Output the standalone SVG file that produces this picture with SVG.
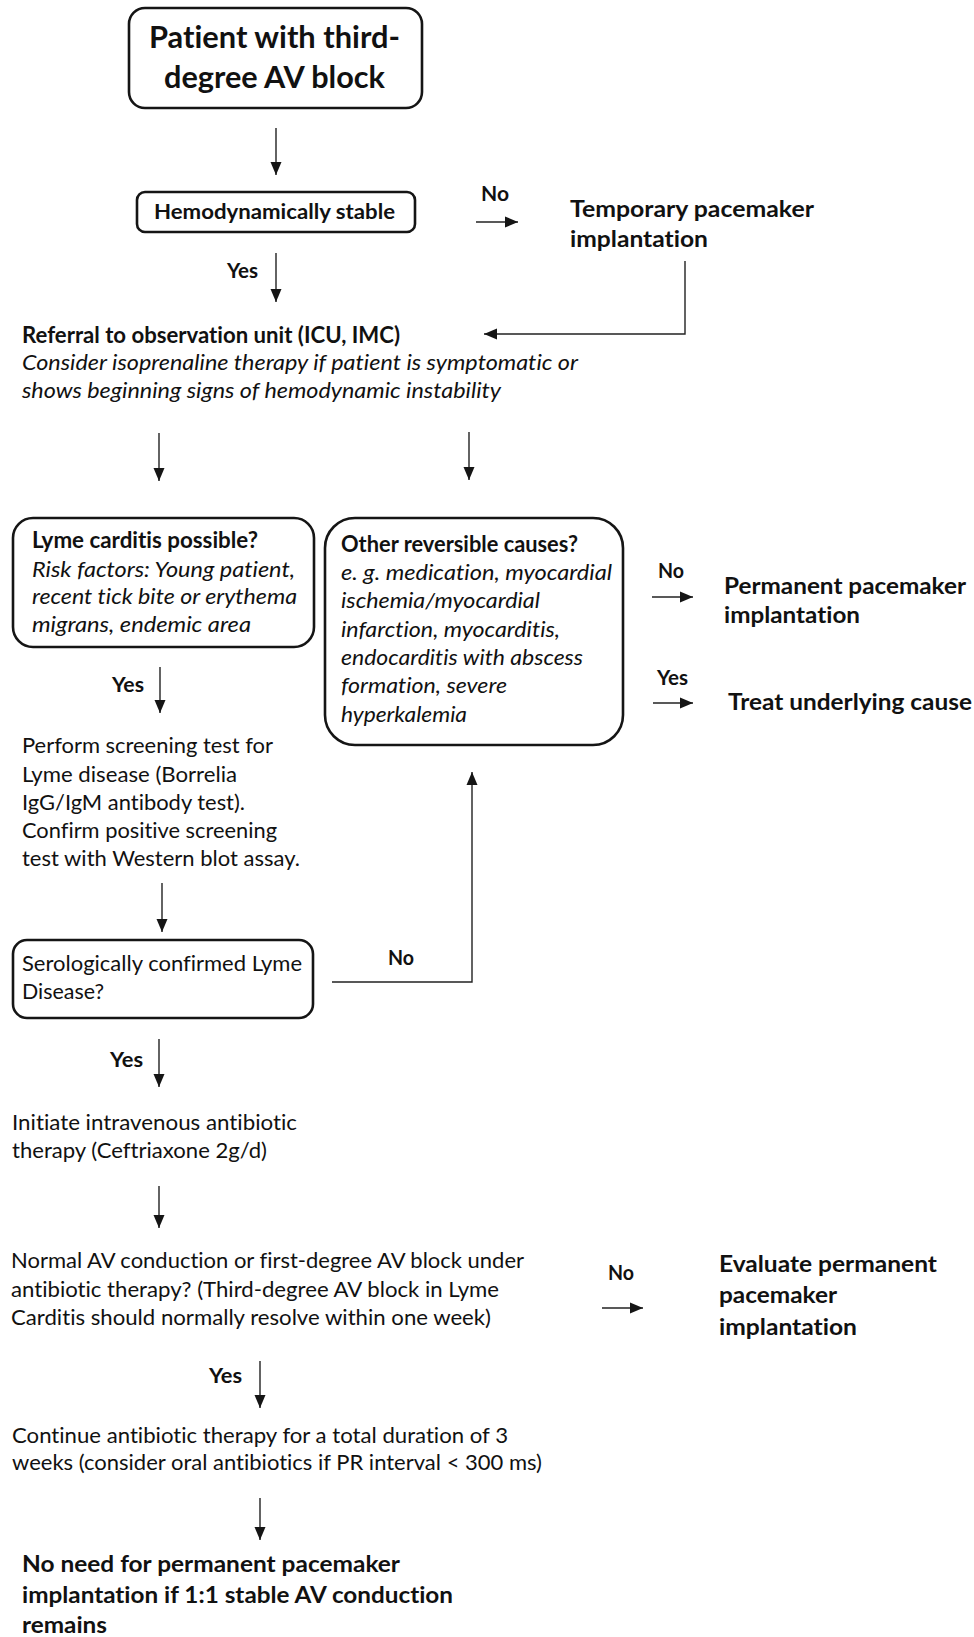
<svg xmlns="http://www.w3.org/2000/svg" width="974" height="1637" viewBox="0 0 974 1637">
<style>
text{font-family:Lato,"Open Sans","Liberation Sans",sans-serif;fill:#111;font-variant-ligatures:none}
.r{font-size:22px}
.b{font-size:22px;font-weight:bold}
.i{font-size:22px;font-style:italic}
.ttl{font-size:30px;font-weight:bold}
.yn{font-size:21px;font-weight:bold}
.box{fill:#fff;stroke:#151515;stroke-width:2.6}
.c{fill:none;stroke:#222;stroke-width:1.4}
</style>
<defs>
<marker id="ah" viewBox="0 0 13 12" refX="13" refY="6" markerWidth="13" markerHeight="12" markerUnits="userSpaceOnUse" orient="auto"><path d="M0,0.5 L13,6 L0,11.5 z" fill="#151515"/></marker>
</defs>
<rect width="974" height="1637" fill="#fff"/>

<g id="connectors">
<path class="c" d="M276,128 V175" marker-end="url(#ah)"/>
<path class="c" d="M276,253 V302" marker-end="url(#ah)"/>
<path class="c" d="M476,222 H518" marker-end="url(#ah)"/>
<path class="c" d="M685,261 V334 H484" marker-end="url(#ah)"/>
<path class="c" d="M159,433 V481" marker-end="url(#ah)"/>
<path class="c" d="M469,432 V480" marker-end="url(#ah)"/>
<path class="c" d="M160,667 V713" marker-end="url(#ah)"/>
<path class="c" d="M162,883 V932" marker-end="url(#ah)"/>
<path class="c" d="M332,982 H472 V772" marker-end="url(#ah)"/>
<path class="c" d="M159,1039 V1087" marker-end="url(#ah)"/>
<path class="c" d="M159,1186 V1228" marker-end="url(#ah)"/>
<path class="c" d="M652,597 H693" marker-end="url(#ah)"/>
<path class="c" d="M653,703 H693" marker-end="url(#ah)"/>
<path class="c" d="M602,1308 H643" marker-end="url(#ah)"/>
<path class="c" d="M260,1361 V1408" marker-end="url(#ah)"/>
<path class="c" d="M260,1498 V1540" marker-end="url(#ah)"/>
</g>

<g id="labels">
<text class="yn" x="227" y="278" textLength="31" lengthAdjust="spacingAndGlyphs">Yes</text>
<text class="yn" x="481" y="201" textLength="28" lengthAdjust="spacingAndGlyphs">No</text>
<text class="yn" x="112" y="692" textLength="32" lengthAdjust="spacingAndGlyphs">Yes</text>
<text class="yn" x="658" y="578" textLength="26" lengthAdjust="spacingAndGlyphs">No</text>
<text class="yn" x="657" y="685" textLength="31" lengthAdjust="spacingAndGlyphs">Yes</text>
<text class="yn" x="388" y="965" textLength="26" lengthAdjust="spacingAndGlyphs">No</text>
<text class="yn" x="110" y="1067" textLength="33" lengthAdjust="spacingAndGlyphs">Yes</text>
<text class="yn" x="608" y="1280" textLength="26" lengthAdjust="spacingAndGlyphs">No</text>
<text class="yn" x="209" y="1383" textLength="33" lengthAdjust="spacingAndGlyphs">Yes</text>
</g>

<g id="start">
<rect class="box" x="129" y="8" width="293" height="100" rx="16"/>
<text class="ttl" x="149" y="48" textLength="251" lengthAdjust="spacingAndGlyphs">Patient with third-</text>
<text class="ttl" x="164" y="88" textLength="221" lengthAdjust="spacingAndGlyphs">degree AV block</text>
</g>

<g id="hemo">
<rect class="box" x="137" y="192" width="278" height="40" rx="8"/>
<text class="b" style="font-size:21px" x="154" y="219" textLength="241" lengthAdjust="spacingAndGlyphs">Hemodynamically stable</text>
</g>

<g id="temp">
<text class="b" x="570" y="217" textLength="244" lengthAdjust="spacingAndGlyphs">Temporary pacemaker</text>
<text class="b" x="570" y="247" textLength="138" lengthAdjust="spacingAndGlyphs">implantation</text>
</g>

<g id="referral">
<text class="b" x="22" y="343" textLength="378" lengthAdjust="spacingAndGlyphs">Referral to observation unit (ICU, IMC)</text>
<text class="i" x="22" y="370" textLength="556" lengthAdjust="spacingAndGlyphs">Consider isoprenaline therapy if patient is symptomatic or</text>
<text class="i" x="22" y="398" textLength="479" lengthAdjust="spacingAndGlyphs">shows beginning signs of hemodynamic instability</text>
</g>

<g id="lyme">
<rect class="box" x="13" y="518" width="301" height="129" rx="20"/>
<text class="b" x="32" y="548" textLength="226" lengthAdjust="spacingAndGlyphs">Lyme carditis possible?</text>
<text class="i" x="32" y="577" textLength="263" lengthAdjust="spacingAndGlyphs">Risk factors: Young patient,</text>
<text class="i" x="32" y="604" textLength="265" lengthAdjust="spacingAndGlyphs">recent tick bite or erythema</text>
<text class="i" x="32" y="632" textLength="219" lengthAdjust="spacingAndGlyphs">migrans, endemic area</text>
</g>

<g id="other">
<rect class="box" x="325" y="518" width="298" height="227" rx="30"/>
<text class="b" x="341" y="552" textLength="237" lengthAdjust="spacingAndGlyphs">Other reversible causes?</text>
<text class="i" x="341" y="580" textLength="271" lengthAdjust="spacingAndGlyphs">e. g. medication, myocardial</text>
<text class="i" x="341" y="608" textLength="199" lengthAdjust="spacingAndGlyphs">ischemia/myocardial</text>
<text class="i" x="341" y="637" textLength="219" lengthAdjust="spacingAndGlyphs">infarction, myocarditis,</text>
<text class="i" x="341" y="665" textLength="242" lengthAdjust="spacingAndGlyphs">endocarditis with abscess</text>
<text class="i" x="341" y="693" textLength="166" lengthAdjust="spacingAndGlyphs">formation, severe</text>
<text class="i" x="341" y="722" textLength="126" lengthAdjust="spacingAndGlyphs">hyperkalemia</text>
</g>

<g id="permanent">
<text class="b" x="724" y="594" textLength="242" lengthAdjust="spacingAndGlyphs">Permanent pacemaker</text>
<text class="b" x="724" y="623" textLength="136" lengthAdjust="spacingAndGlyphs">implantation</text>
</g>

<g id="treat">
<text class="b" x="728" y="710" textLength="244" lengthAdjust="spacingAndGlyphs">Treat underlying cause</text>
</g>

<g id="screening">
<text class="r" x="22" y="753" textLength="251" lengthAdjust="spacingAndGlyphs">Perform screening test for</text>
<text class="r" x="22" y="782" textLength="215" lengthAdjust="spacingAndGlyphs">Lyme disease (Borrelia</text>
<text class="r" x="22" y="810" textLength="223" lengthAdjust="spacingAndGlyphs">IgG/IgM antibody test).</text>
<text class="r" x="22" y="838" textLength="255" lengthAdjust="spacingAndGlyphs">Confirm positive screening</text>
<text class="r" x="22" y="866" textLength="278" lengthAdjust="spacingAndGlyphs">test with Western blot assay.</text>
</g>

<g id="sero">
<rect class="box" x="13" y="940" width="300" height="78" rx="14"/>
<text class="r" x="22" y="971" textLength="280" lengthAdjust="spacingAndGlyphs">Serologically confirmed Lyme</text>
<text class="r" x="22" y="999" textLength="82" lengthAdjust="spacingAndGlyphs">Disease?</text>
</g>

<g id="initiate">
<text class="r" x="12" y="1130" textLength="285" lengthAdjust="spacingAndGlyphs">Initiate intravenous antibiotic</text>
<text class="r" x="12" y="1158" textLength="255" lengthAdjust="spacingAndGlyphs">therapy (Ceftriaxone 2g/d)</text>
</g>

<g id="normal">
<text class="r" x="11" y="1268" textLength="513" lengthAdjust="spacingAndGlyphs">Normal AV conduction or first-degree AV block under</text>
<text class="r" x="11" y="1297" textLength="488" lengthAdjust="spacingAndGlyphs">antibiotic therapy? (Third-degree AV block in Lyme</text>
<text class="r" x="11" y="1325" textLength="480" lengthAdjust="spacingAndGlyphs">Carditis should normally resolve within one week)</text>
</g>

<g id="evaluate">
<text class="b" x="719" y="1272" textLength="218" lengthAdjust="spacingAndGlyphs">Evaluate permanent</text>
<text class="b" x="719" y="1303" textLength="118" lengthAdjust="spacingAndGlyphs">pacemaker</text>
<text class="b" x="719" y="1335" textLength="138" lengthAdjust="spacingAndGlyphs">implantation</text>
</g>

<g id="continue">
<text class="r" x="12" y="1443" textLength="496" lengthAdjust="spacingAndGlyphs">Continue antibiotic therapy for a total duration of 3</text>
<text class="r" x="12" y="1470" textLength="530" lengthAdjust="spacingAndGlyphs">weeks (consider oral antibiotics if PR interval &lt; 300 ms)</text>
</g>

<g id="final">
<text class="b" x="22" y="1572" textLength="378" lengthAdjust="spacingAndGlyphs">No need for permanent pacemaker</text>
<text class="b" x="22" y="1603" textLength="431" lengthAdjust="spacingAndGlyphs">implantation if 1:1 stable AV conduction</text>
<text class="b" x="22" y="1633" textLength="85" lengthAdjust="spacingAndGlyphs">remains</text>
</g>
</svg>
